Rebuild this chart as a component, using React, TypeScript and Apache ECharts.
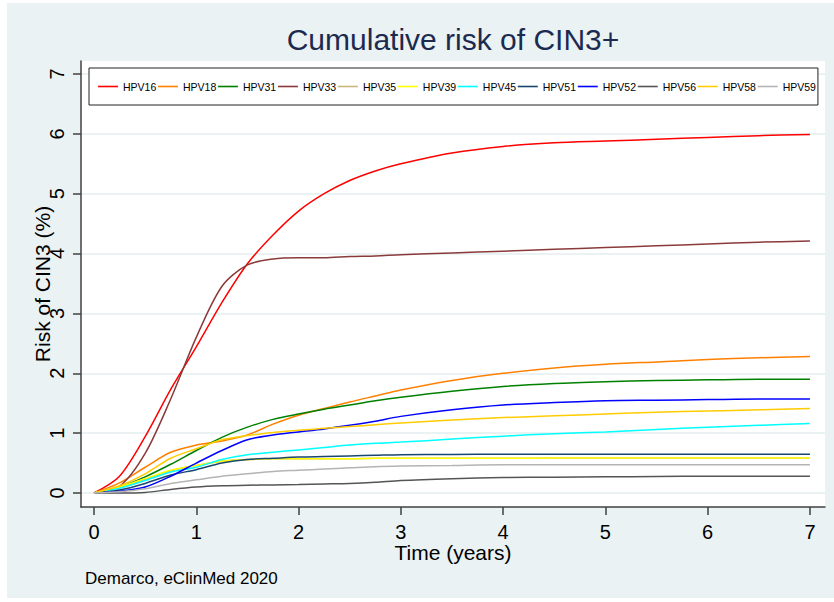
import { useEffect, useRef } from "react";
import * as echarts from "echarts";

// Follow-up time (years) at which each cumulative risk value is given
const times = [0, 0.25, 0.5, 0.75, 1, 1.25, 1.5, 1.75, 2, 2.25, 2.5, 2.75, 3, 3.5, 4, 4.5, 5, 5.5, 6, 6.5, 7];

// Cumulative risk of CIN3+ (%) per HPV type
const hpv16 = [0, 0.28, 0.94, 1.73, 2.44, 3.18, 3.83, 4.31, 4.71, 5.0, 5.22, 5.38, 5.5, 5.68, 5.79, 5.85, 5.88, 5.91, 5.94, 5.97, 5.99];
const hpv18 = [0, 0.17, 0.43, 0.68, 0.8, 0.87, 0.97, 1.15, 1.3, 1.41, 1.52, 1.62, 1.72, 1.88, 2.0, 2.09, 2.15, 2.19, 2.23, 2.26, 2.28];
const hpv31 = [0, 0.1, 0.27, 0.48, 0.71, 0.93, 1.1, 1.23, 1.32, 1.4, 1.47, 1.54, 1.6, 1.7, 1.78, 1.83, 1.86, 1.88, 1.89, 1.9, 1.9];
const hpv33 = [0, 0.11, 0.66, 1.57, 2.6, 3.45, 3.81, 3.91, 3.93, 3.93, 3.95, 3.96, 3.98, 4.01, 4.04, 4.07, 4.1, 4.13, 4.16, 4.19, 4.21];
const hpv35 = [0, 0.09, 0.23, 0.37, 0.46, 0.53, 0.56, 0.57, 0.57, 0.57, 0.57, 0.58, 0.58, 0.58, 0.58, 0.585, 0.585, 0.585, 0.585, 0.585, 0.585];
const hpv39 = [0, 0.1, 0.24, 0.38, 0.46, 0.53, 0.56, 0.57, 0.57, 0.57, 0.57, 0.58, 0.58, 0.58, 0.58, 0.585, 0.585, 0.585, 0.585, 0.585, 0.585];
const hpv45 = [0, 0.08, 0.21, 0.35, 0.43, 0.56, 0.64, 0.68, 0.72, 0.76, 0.8, 0.83, 0.85, 0.9, 0.95, 0.99, 1.02, 1.06, 1.1, 1.13, 1.16];
const hpv51 = [0, 0.05, 0.16, 0.3, 0.39, 0.5, 0.56, 0.58, 0.6, 0.61, 0.62, 0.63, 0.64, 0.645, 0.646, 0.646, 0.646, 0.646, 0.646, 0.646, 0.646];
const hpv52 = [0, 0.03, 0.1, 0.28, 0.5, 0.71, 0.89, 0.97, 1.02, 1.07, 1.13, 1.2, 1.28, 1.39, 1.47, 1.51, 1.54, 1.55, 1.56, 1.57, 1.57];
const hpv56 = [0, 0, 0.01, 0.06, 0.1, 0.12, 0.13, 0.135, 0.14, 0.15, 0.16, 0.18, 0.21, 0.24, 0.26, 0.265, 0.27, 0.275, 0.28, 0.28, 0.28];
const hpv58 = [0, 0.12, 0.32, 0.58, 0.74, 0.89, 0.96, 1.01, 1.05, 1.08, 1.11, 1.14, 1.17, 1.22, 1.26, 1.29, 1.32, 1.35, 1.37, 1.39, 1.41];
const hpv59 = [0, 0.02, 0.07, 0.16, 0.22, 0.28, 0.32, 0.36, 0.38, 0.4, 0.42, 0.44, 0.45, 0.46, 0.47, 0.47, 0.47, 0.47, 0.47, 0.47, 0.47];

const typeNames = ["HPV16", "HPV18", "HPV31", "HPV33", "HPV35", "HPV39", "HPV45", "HPV51", "HPV52", "HPV56", "HPV58", "HPV59"];
const typeValues = [hpv16, hpv18, hpv31, hpv33, hpv35, hpv39, hpv45, hpv51, hpv52, hpv56, hpv58, hpv59];
const typeColors = [
  "#ff0000", "#ff8000", "#008000", "#8b3a3a", "#cbb77c", "#ffff00",
  "#00ffff", "#1a476f", "#0000ff", "#555555", "#ffcc00", "#b4b4b4",
];

const xTicks = [0, 1, 2, 3, 4, 5, 6, 7];
const yTicks = [0, 1, 2, 3, 4, 5, 6, 7];

const FONT = "'Liberation Sans', Arial, Helvetica, sans-serif";
const PANEL = "#eaf2f3";
const AXIS = "#404040";

const panelRect = {
  id: "panel",
  type: "rect",
  z: -100,
  silent: true,
  shape: { x: 7, y: 3, width: 827, height: 595 },
  style: { fill: PANEL },
};

function buildOption(): echarts.EChartsCoreOption {
  return {
    animation: false,
    backgroundColor: "#ffffff",
    textStyle: { fontFamily: FONT },
    graphic: { elements: [panelRect] },
    title: [
      {
        text: "Cumulative risk of CIN3+",
        left: 453,
        top: 24,
        textAlign: "center",
        padding: 0,
        textStyle: { fontFamily: FONT, fontSize: 30, fontWeight: "normal", color: "#1c2a50" },
      },
      {
        text: "Demarco, eClinMed 2020",
        left: 85,
        top: 570,
        padding: 0,
        textStyle: { fontFamily: FONT, fontSize: 17, fontWeight: "normal", color: "#000" },
      },
    ],
    legend: {
      left: 89,
      top: 68,
      orient: "horizontal",
      padding: [13, 2, 13, 9],
      itemGap: 1.7,
      itemWidth: 20,
      itemHeight: 1.6,
      icon: "rect",
      backgroundColor: "#ffffff",
      borderColor: "#222",
      borderWidth: 1,
      borderRadius: 0,
      textStyle: { fontFamily: FONT, fontSize: 10.5, color: "#000" },
      data: typeNames,
    },
    grid: {
      left: 81,
      top: 61,
      right: 9,
      bottom: 95,
      show: true,
      backgroundColor: "#ffffff",
      borderWidth: 0,
    },
    xAxis: {
      type: "value",
      min: -0.127,
      max: 7.147,
      name: "Time (years)",
      nameLocation: "middle",
      nameGap: 35,
      nameMoveOverlap: false,
      nameTextStyle: { fontFamily: FONT, fontSize: 21, color: "#000" },
      axisLine: { show: true, onZero: false, lineStyle: { color: AXIS, width: 1.5 } },
      axisTick: { show: true, length: 8, customValues: xTicks, lineStyle: { color: AXIS, width: 1.5 } },
      axisLabel: { customValues: xTicks, fontFamily: FONT, fontSize: 20, color: "#000", margin: 15 },
      splitLine: { show: false },
    },
    yAxis: {
      type: "value",
      min: -0.234,
      max: 7.217,
      name: "Risk of CIN3 (%)",
      nameLocation: "middle",
      nameGap: 28,
      nameMoveOverlap: false,
      nameTextStyle: { fontFamily: FONT, fontSize: 21, color: "#000" },
      axisLine: { show: true, onZero: false, lineStyle: { color: AXIS, width: 1.5 } },
      axisTick: { show: true, length: 8, customValues: yTicks, lineStyle: { color: AXIS, width: 1.5 } },
      axisLabel: { show: false, customValues: yTicks },
      splitLine: { show: true, lineStyle: { color: PANEL, width: 2 } },
    },
    series: typeNames.map((name, i) => ({
      name,
      type: "line",
      data: times.map((t, j) => [t, typeValues[i][j]]),
      symbol: "none",
      showSymbol: false,
      smooth: 0.3,
      color: typeColors[i],
      lineStyle: { color: typeColors[i], width: 1.5 },
      emphasis: { disabled: true },
    })),
  };
}

export default function App() {
  const ref = useRef<HTMLDivElement>(null);
  useEffect(() => {
    if (!ref.current) return;
    const chart = echarts.init(ref.current, null, { renderer: "svg" });
    chart.setOption(buildOption());
    // Vertical (rotated) tick labels on the risk axis, placed through the axis scale
    const yLabels = yTicks.map((v) => ({
      id: "ylab" + v,
      type: "text",
      x: 57,
      y: chart.convertToPixel({ yAxisIndex: 0 }, v) as number,
      rotation: Math.PI / 2,
      silent: true,
      style: {
        text: String(v),
        fontFamily: FONT,
        fontSize: 20,
        fill: "#000",
        align: "center",
        verticalAlign: "middle",
      },
    }));
    chart.setOption({ graphic: { elements: [panelRect, ...yLabels] } });
    return () => chart.dispose();
  }, []);
  return (
    <div
      ref={ref}
      style={{ position: "fixed", left: 0, top: 0, width: 834, height: 602, background: "#fff" }}
    />
  );
}
